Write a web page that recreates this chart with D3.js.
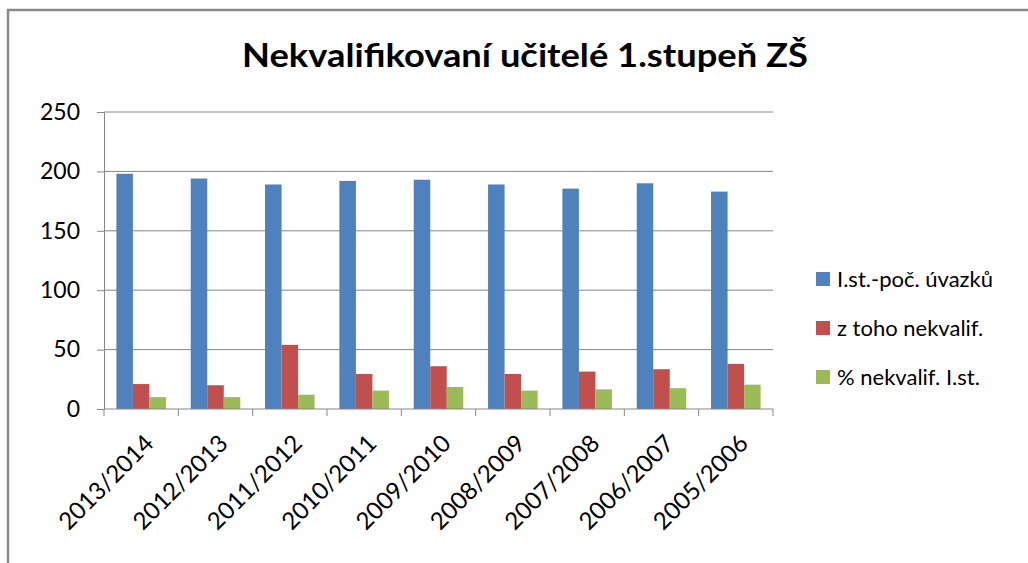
<!DOCTYPE html>
<html>
<head>
<meta charset="utf-8">
<script src="https://cdn.jsdelivr.net/npm/d3@7"></script>
<style>
  body { margin: 0; background: #fff; }
  text { font-family: Lato, "Open Sans", sans-serif; fill: #000; }
</style>
</head>
<body>
<div id="chart"></div>
<script>
// data
const categories = ['2013/2014', '2012/2013', '2011/2012', '2010/2011', '2009/2010',
  '2008/2009', '2007/2008', '2006/2007', '2005/2006'];
const seriesNames = ['I.st.-poč. úvazků', 'z toho nekvalif.', '% nekvalif. I.st.'];
const uvazky = [198, 194, 189, 192, 193, 189, 185.5, 190, 183];
const nekvalif = [21, 20, 54, 29.5, 36, 29.5, 31.5, 33.5, 38];
const procento = [10, 10, 12, 15.5, 18.5, 15.5, 16.5, 17.5, 20.5];
const yTicks = [0, 50, 100, 150, 200, 250];
const colors = ['#4F81BD', '#C0504D', '#9BBB59'];

const W = 1028, H = 563;
const plot = { left: 104, right: 773, top: 112, bottom: 409 };

const svg = d3.select('#chart').append('svg')
  .attr('width', W).attr('height', H);

// outer frame of the chart
svg.append('path')
  .attr('d', 'M8,' + H + ' V10 H' + W)
  .attr('fill', 'none')
  .attr('stroke', '#8a8a8a')
  .attr('stroke-width', 2.5);

svg.append('text')
  .attr('x', 525).attr('y', 67)
  .attr('text-anchor', 'middle')
  .attr('textLength', 566)
  .attr('lengthAdjust', 'spacingAndGlyphs')
  .style('font-size', '32px')
  .style('font-weight', 'bold')
  .text('Nekvalifikovaní učitelé 1.stupeň ZŠ');

const xScale = d3.scaleBand().domain(categories).range([plot.left, plot.right]);
const xSub = d3.scaleBand().domain(d3.range(3)).range([0, xScale.bandwidth()])
  .paddingInner(0).paddingOuter(0.75);
const yScale = d3.scaleLinear().domain([0, 250]).range([plot.bottom, plot.top]);

// gridlines
svg.append('g').selectAll('line')
  .data(yTicks.slice(1))
  .join('line')
  .attr('x1', plot.left).attr('x2', plot.right)
  .attr('y1', (d) => yScale(d)).attr('y2', (d) => yScale(d))
  .attr('stroke', '#868686').attr('stroke-width', 1);

// bars
const rows = categories.map((c, i) => ({ cat: c, vals: [uvazky[i], nekvalif[i], procento[i]] }));
const groups = svg.append('g').selectAll('g')
  .data(rows)
  .join('g')
  .attr('transform', (d) => 'translate(' + xScale(d.cat) + ',0)');

groups.selectAll('rect')
  .data((d) => d.vals.map((v, k) => ({ v, k })))
  .join('rect')
  .attr('x', (d) => xSub(d.k))
  .attr('width', xSub.bandwidth())
  .attr('y', (d) => yScale(d.v))
  .attr('height', (d) => yScale(0) - yScale(d.v))
  .attr('fill', (d) => colors[d.k]);

// y axis
const yAxis = d3.axisLeft(yScale).tickValues(yTicks).tickSize(7).tickPadding(17);
const yAxisGroup = svg.append('g')
  .attr('transform', 'translate(' + plot.left + ',0)')
  .call(yAxis);
yAxisGroup.select('.domain').attr('stroke', '#868686');
yAxisGroup.selectAll('.tick line').attr('stroke', '#868686');
yAxisGroup.selectAll('text')
  .style('font-size', '23px')
  .style('font-family', 'Lato, sans-serif')
  .attr('fill', '#000');

// x axis: line and ticks at category boundaries
const xAxisGroup = svg.append('g');
xAxisGroup.append('line')
  .attr('x1', plot.left).attr('x2', plot.right)
  .attr('y1', plot.bottom).attr('y2', plot.bottom)
  .attr('stroke', '#868686');
xAxisGroup.selectAll('line.tk')
  .data(categories.concat(['end']))
  .join('line')
  .attr('class', 'tk')
  .attr('x1', (d, i) => plot.left + i * xScale.step())
  .attr('x2', (d, i) => plot.left + i * xScale.step())
  .attr('y1', plot.bottom).attr('y2', plot.bottom + 7)
  .attr('stroke', '#868686');

xAxisGroup.selectAll('text')
  .data(categories)
  .join('text')
  .attr('transform', (d) => 'translate(' + (xScale(d) + xScale.bandwidth() / 2 + 2) + ',' + (plot.bottom + 24) + ') rotate(-45)')
  .attr('text-anchor', 'end')
  .attr('dy', '0.7em')
  .style('font-size', '24px')
  .text((d) => d);

// legend
const legend = svg.append('g').attr('transform', 'translate(816,279)');
const items = legend.selectAll('g')
  .data(seriesNames)
  .join('g')
  .attr('transform', (d, i) => 'translate(0,' + i * 49 + ')');
items.append('rect')
  .attr('x', 0).attr('y', -7)
  .attr('width', 14).attr('height', 14)
  .attr('fill', (d, i) => colors[i]);
items.append('text')
  .attr('x', 21).attr('y', 0)
  .attr('dy', '0.35em')
  .style('font-size', '22px')
  .text((d) => d);
</script>
</body>
</html>
